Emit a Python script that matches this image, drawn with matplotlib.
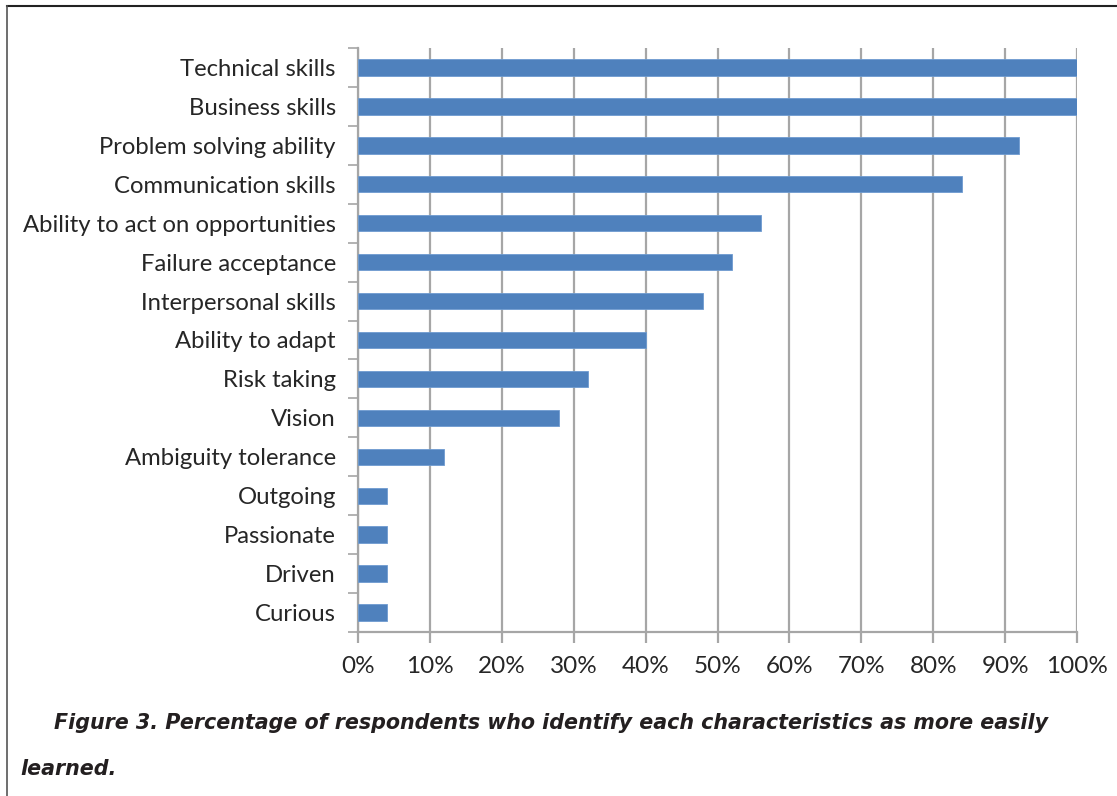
import numpy as np
import matplotlib
matplotlib.use("Agg")
import matplotlib.pyplot as plt
from matplotlib.lines import Line2D
from matplotlib.ticker import FuncFormatter, MultipleLocator

categories = ["Technical skills", "Business skills", "Problem solving ability",
              "Communication skills", "Ability to act on opportunities",
              "Failure acceptance", "Interpersonal skills", "Ability to adapt",
              "Risk taking", "Vision", "Ambiguity tolerance", "Outgoing",
              "Passionate", "Driven", "Curious"]
values = [100, 100, 92, 84, 56, 52, 48, 40, 32, 28, 12, 4, 4, 4, 4]
caption1 = "Figure 3. Percentage of respondents who identify each characteristics as more easily"
caption2 = "learned."

plt.rcParams["font.family"] = ["Lato", "DejaVu Sans"]

W, H = 1117, 796
fig = plt.figure(figsize=(W / 100, H / 100), dpi=100)
ax = fig.add_axes([358 / W, 1 - 632 / H, (1077 - 358) / W, (632 - 48) / H])

n = len(categories)
ypos = np.arange(n)[::-1]
ax.barh(ypos, values, height=0.42, color="#4F81BD", edgecolor="#6E9BD0", linewidth=0.6, zorder=3)

ax.set_xlim(0, 100)
ax.set_ylim(-0.5, n - 0.5)
ax.xaxis.set_major_locator(MultipleLocator(10))
ax.xaxis.set_major_formatter(FuncFormatter(lambda v, p: f"{int(v)}%"))
ax.grid(axis="x", color="#A6A6A6", linewidth=1.6, zorder=0)

# category labels with ticks between categories
ax.set_yticks(ypos)
ax.set_yticklabels(categories)
ax.set_yticks(np.arange(n + 1) - 0.5, minor=True)
ax.tick_params(axis="y", which="major", length=0, pad=16, labelsize=17.2, labelcolor="#262626")
ax.tick_params(axis="y", which="minor", length=7, color="#A6A6A6", width=1.2)
ax.tick_params(axis="x", length=8, color="#A6A6A6", width=1.6, pad=9, labelsize=17.5, labelcolor="#262626")

for s in ["top", "right"]:
    ax.spines[s].set_visible(False)
for s in ["left", "bottom"]:
    ax.spines[s].set_color("#A6A6A6")
    ax.spines[s].set_linewidth(1.6)

cap = dict(fontsize=14.85, fontweight="bold", style="italic", color="#231F20",
           va="baseline", family=["DejaVu Sans"])
fig.text(54 / W, 1 - 729 / H, caption1, **cap)
fig.text(20 / W, 1 - 775 / H, caption2, **cap)

# frame lines at top and left
fig.add_artist(Line2D([7 / W, 1], [1 - 6 / H, 1 - 6 / H], color="#222222", linewidth=1.5))
fig.add_artist(Line2D([7 / W, 7 / W], [0, 1 - 6 / H], color="#555555", linewidth=1.2))

fig.savefig("out.png", dpi=100, facecolor="white")
